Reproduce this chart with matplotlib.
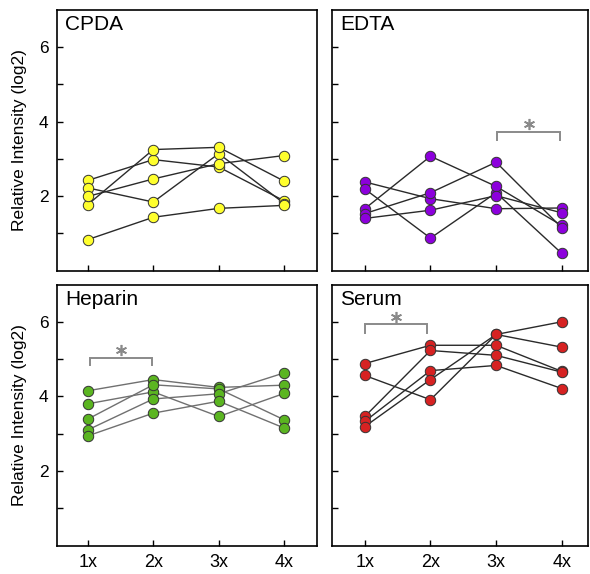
import matplotlib
matplotlib.use("Agg")
import matplotlib.pyplot as plt

plt.rcParams['font.family'] = ['Liberation Sans', 'DejaVu Sans']

doses = [1, 2, 3, 4]
dose_labels = ["1x", "2x", "3x", "4x"]

cpda = [
    [2.42, 2.98, 2.78, 1.87],
    [2.22, 1.84, 3.14, 1.80],
    [1.77, 3.25, 3.31, 2.40],
    [1.99, 2.46, 2.87, 3.09],
    [0.83, 1.43, 1.67, 1.75],
]

edta = [
    [2.38, 1.93, 1.66, 1.68],
    [2.19, 0.87, 2.09, 0.46],
    [1.66, 3.07, 2.26, 1.21],
    [1.53, 2.09, 2.91, 1.15],
    [1.40, 1.62, 2.01, 1.55],
]

heparin = [
    [4.15, 4.45, 4.24, 4.30],
    [3.80, 4.12, 3.46, 4.08],
    [3.39, 4.31, 4.20, 3.37],
    [3.10, 3.93, 4.07, 4.63],
    [2.94, 3.55, 3.87, 3.15],
]

serum = [
    [4.88, 5.37, 5.37, 4.67],
    [4.56, 3.91, 5.66, 6.00],
    [3.46, 5.23, 5.10, 4.65],
    [3.33, 4.69, 4.83, 4.21],
    [3.19, 4.45, 5.66, 5.32],
]

panel_names = ["CPDA", "EDTA", "Heparin", "Serum"]
panel_data = [cpda, edta, heparin, serum]
panel_colors = ["#FFFF2E", "#8C00DC", "#5BB521", "#D62222"]
line_colors = ["#2a2a2a", "#2a2a2a", "#707070", "#2a2a2a"]

# significance brackets: (x0, x1, y_line, y_end, y_star) or None
brackets = [None, (3.02, 3.98, 3.71, 3.51, 3.95), (1.03, 1.98, 5.03, 4.84, 5.25), (1.0, 1.95, 5.93, 5.70, 6.13)]

W, H = 590, 574
fig = plt.figure(figsize=(W / 100, H / 100), dpi=100)

rects = [
    (57, 10, 317, 270.5),
    (332, 10, 588, 270.5),
    (57, 284.5, 317, 545.5),
    (332, 284.5, 588, 545.5),
]
xlims = [(0.53, 4.5), (0.5, 4.4), (0.53, 4.5), (0.5, 4.4)]

for i in range(4):
    l, t, r, b = rects[i]
    ax = fig.add_axes([l / W, 1 - b / H, (r - l) / W, (b - t) / H])
    for series in panel_data[i]:
        ax.plot(doses, series, color=line_colors[i], lw=1.0, zorder=2)
    for series in panel_data[i]:
        ax.plot(doses, series, ls='none', marker='o', ms=7.5,
                mfc=panel_colors[i], mec='#333333', mew=0.7, zorder=3)
    ax.set_xlim(*xlims[i])
    ax.set_ylim(0, 7)
    ax.set_yticks([1, 2, 3, 4, 5, 6])
    ax.set_xticks(doses)
    ax.tick_params(direction='in', length=4, width=1.0, labelsize=12.5, pad=6)
    if i in (0, 2):
        ax.set_yticklabels(["", "2", "", "4", "", "6"])
        ax.set_ylabel("Relative Intensity (log2)", fontsize=12.5, labelpad=9)
    else:
        ax.set_yticklabels([])
    if i in (2, 3):
        ax.set_xticklabels(dose_labels, fontsize=13)
    else:
        ax.set_xticklabels([])
    for sp in ax.spines.values():
        sp.set_linewidth(1.2)
    ax.text(0.032, 0.923, panel_names[i], transform=ax.transAxes,
            fontsize=15, ha='left', va='baseline', color='black')
    br = brackets[i]
    if br is not None:
        x0, x1, yl, ye, ys = br
        ax.plot([x0, x0, x1, x1], [ye, yl, yl, ye], color='#8a8a8a', lw=1.4,
                solid_joinstyle='miter', zorder=1)
        ax.plot([(x0 + x1) / 2], [ys], ls='none', marker=(6, 2, 0), ms=8,
                mec='#8a8a8a', mew=1.2, zorder=1)

fig.savefig("out.png", dpi=100)
